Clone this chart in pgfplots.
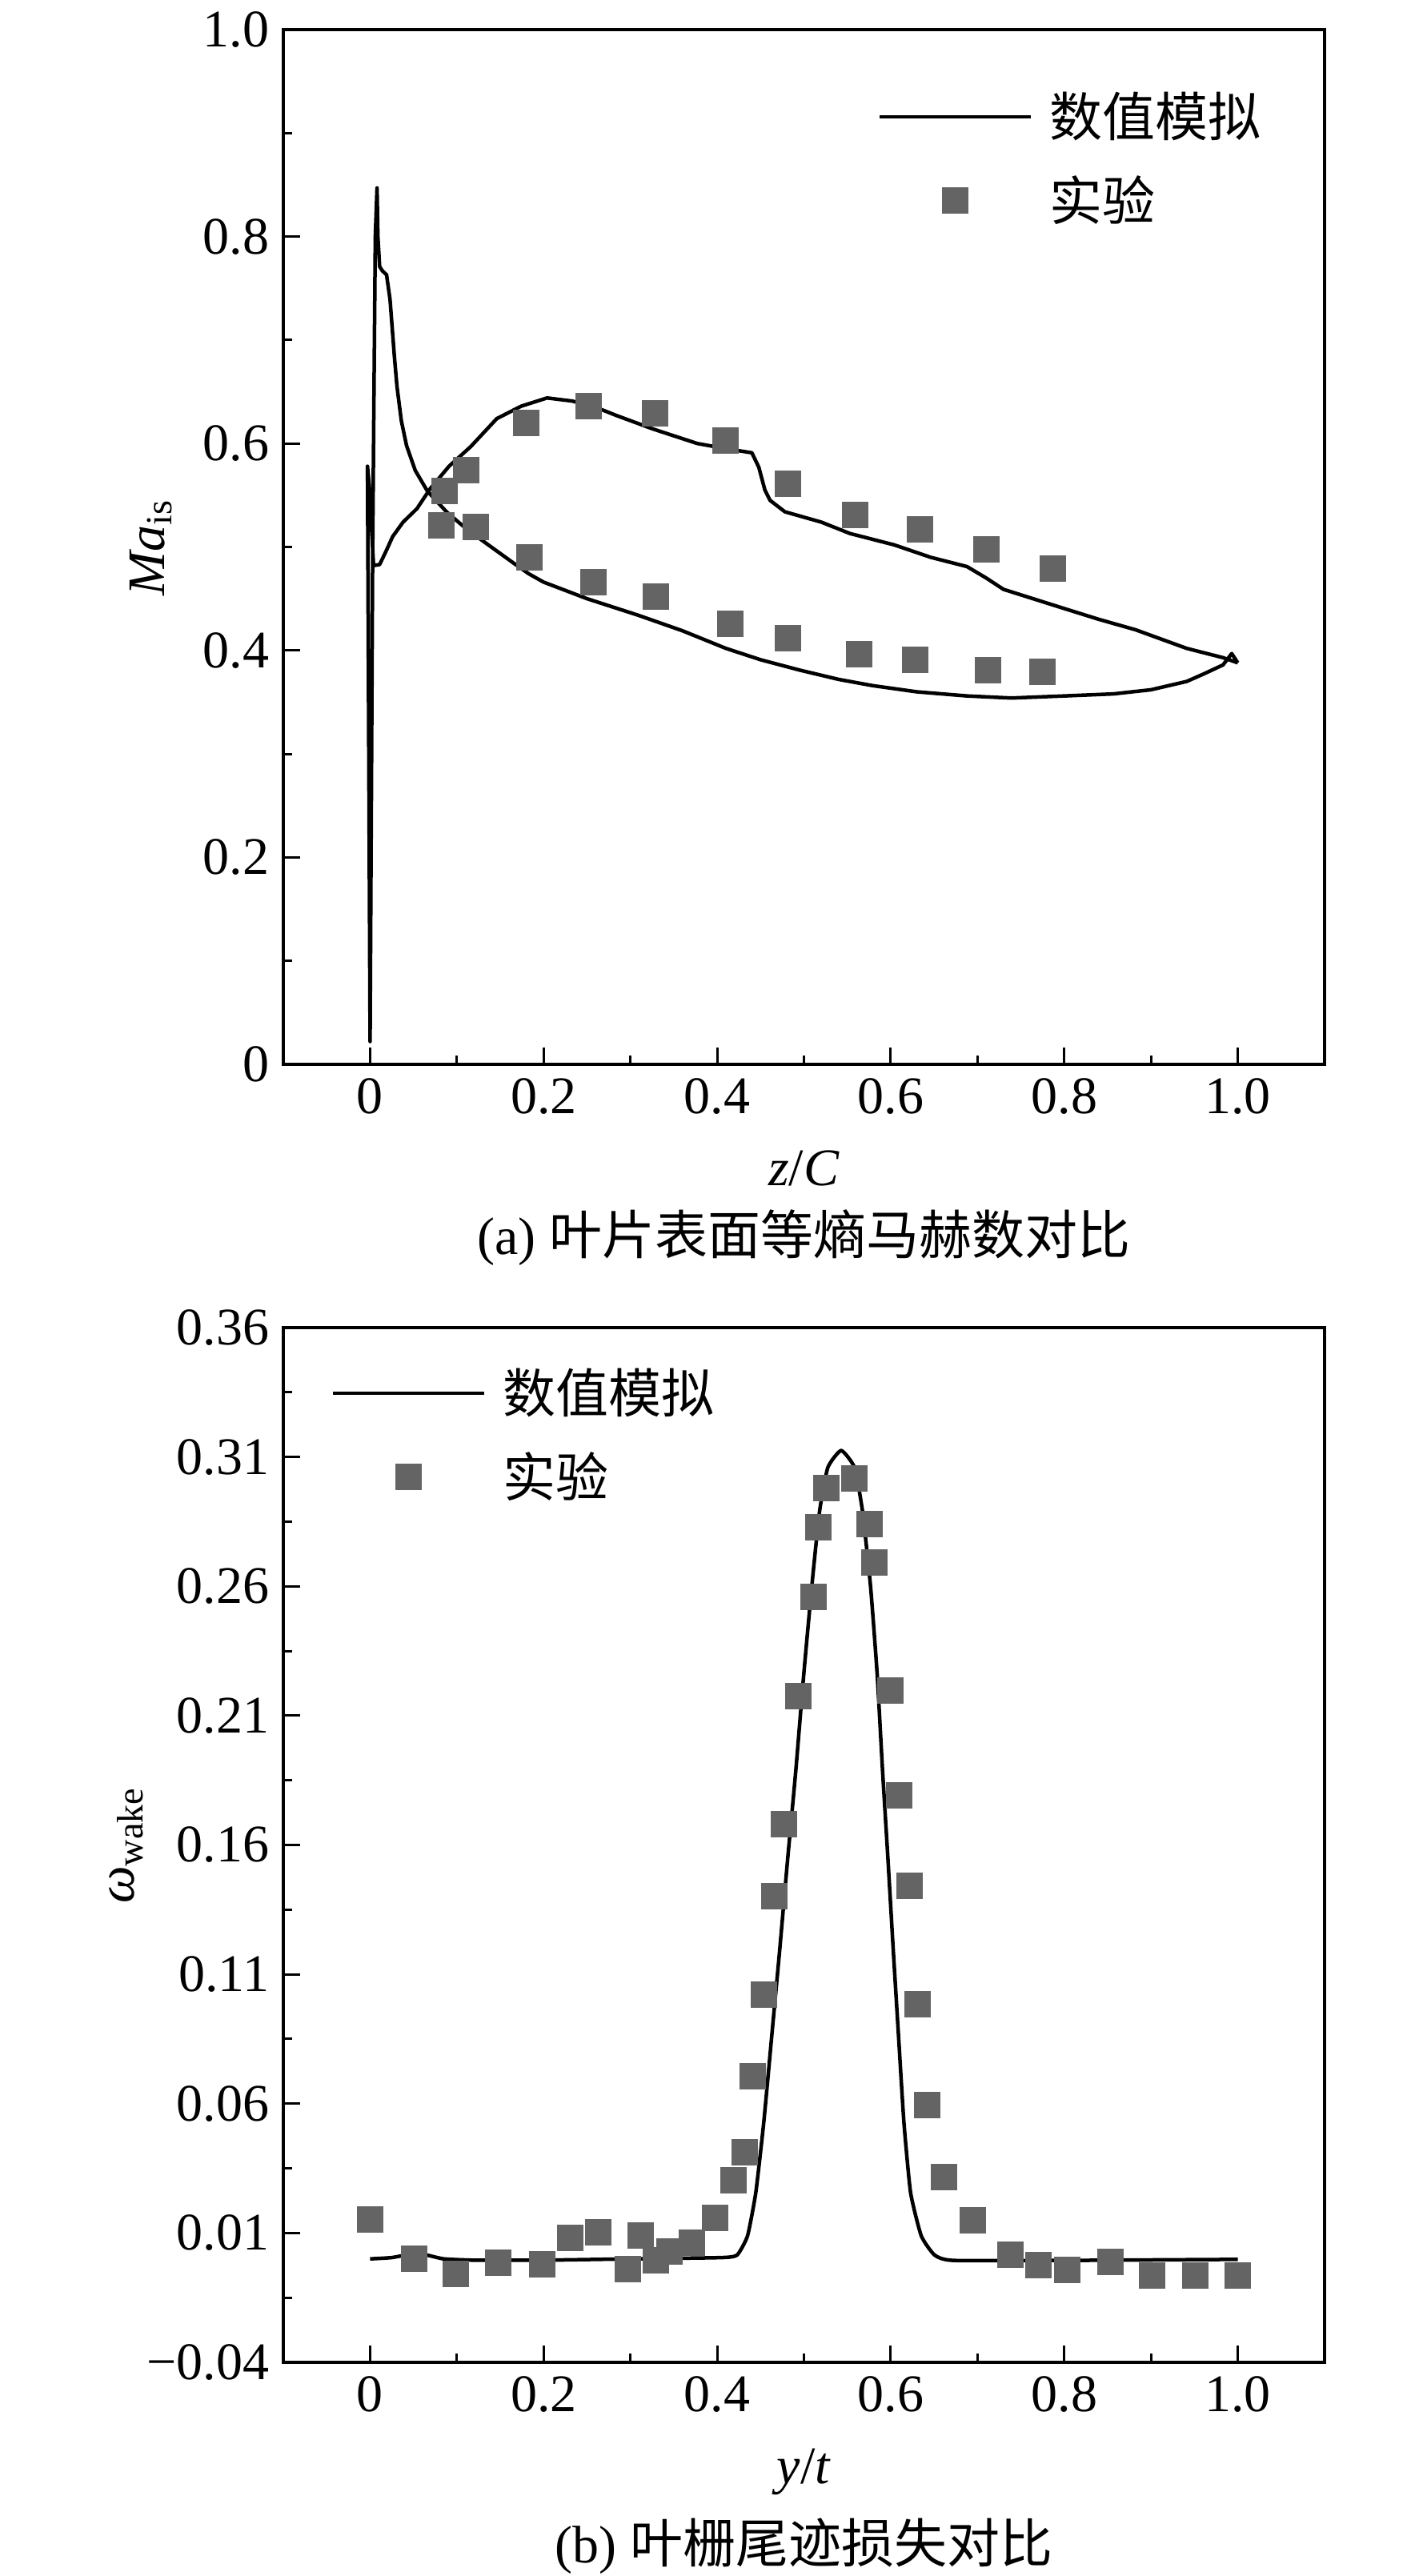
\documentclass[border=0pt]{standalone}
\usepackage{fontspec}
\setmainfont{Liberation Serif}
\newfontfamily\cjk{Noto Sans CJK SC}
\usepackage{pgfplots}
\pgfplotsset{compat=1.18}
\definecolor{mk}{RGB}{100,100,100}
\newcommand{\fs}{\fontsize{13.2}{15.8}\selectfont}
\pgfplotsset{
  mystyle/.style={
    scale only axis, width=260.2pt, height=258.6pt,
    xmin=-0.1, xmax=1.1,
    clip mode=individual,
    axis line style={line width=0.9pt},
    tick align=inside, xtick pos=bottom, ytick pos=left,
    major tick length=4.2pt, minor tick length=2.2pt,
    every tick/.style={black, line width=0.6pt},
    xtick={0,0.2,0.4,0.6,0.8,1.0}, xticklabels={0,0.2,0.4,0.6,0.8,1.0},
    minor x tick num=1, minor y tick num=1,
    tick label style={font=\fs},
    label style={font=\fs},
    legend cell align=left,
    legend style={draw=none, fill=none, anchor=north west,
      inner xsep=0pt, inner ysep=0pt, row sep=11pt, column sep=4.2pt,
      nodes={inner sep=0pt, text height=10pt, text depth=0pt},
      font=\cjk\fs},
    legend image code/.code={\draw[mark repeat=2,mark phase=2,##1] plot coordinates {(0pt,0pt) (18.9pt,0pt) (37.8pt,0pt)};},
    xlabel style={at={(axis description cs:0.5,-0.117)}, anchor=base},
  },
  sim/.style={black, line width=0.9pt, line join=round, no marks},
  exp/.style={only marks, mark=square*, mark size=3.2pt, mark options={fill=mk, draw=mk, line width=0pt}},
}
\begin{document}
\begin{tikzpicture}
\useasboundingbox (-70.8pt,-377.8pt) rectangle (283.6pt,266pt);
% ---------------- (a)
\begin{axis}[mystyle, at={(0,0)}, anchor=south west,
  ymin=0, ymax=1,
  ytick={0,0.2,0.4,0.6,0.8,1.0}, yticklabels={0,0.2,0.4,0.6,0.8,1.0},
  xlabel={\textit{z}/\textit{C}},
  ylabel={\textit{Ma}\textsubscript{is}},
  ylabel style={at={(axis description cs:-0.1145,0.5)}, anchor=base},
  legend style={at={(axis description cs:0.5703,0.9358)}},
]
\addplot[sim] coordinates {
(1.000,0.388) (0.993,0.397) (0.983,0.386) (0.960,0.377) (0.941,0.370)
(0.900,0.362) (0.857,0.358) (0.800,0.356) (0.739,0.354) (0.688,0.356)
(0.630,0.360) (0.579,0.366) (0.540,0.372) (0.495,0.381) (0.450,0.391)
(0.410,0.402) (0.360,0.419) (0.309,0.434) (0.250,0.450) (0.200,0.466)
(0.183,0.474) (0.166,0.484) (0.128,0.507) (0.106,0.521) (0.088,0.534)
(0.066,0.554) (0.052,0.574) (0.042,0.598) (0.036,0.622) (0.031,0.655)
(0.028,0.684) (0.023,0.739) (0.019,0.763) (0.014,0.767) (0.011,0.771)
(0.009,0.800) (0.008,0.847)
(0.006,0.800) (0.003,0.500) (0.000,0.022) (-0.003,0.578) (-0.001,0.560)
(0.004,0.482) (0.011,0.483) (0.019,0.497) (0.026,0.510) (0.038,0.524)
(0.054,0.537) (0.069,0.556) (0.091,0.578) (0.116,0.597) (0.146,0.624)
(0.174,0.636) (0.204,0.644) (0.233,0.641) (0.260,0.635) (0.284,0.627)
(0.326,0.614) (0.377,0.600) (0.410,0.595) (0.440,0.591) (0.448,0.577)
(0.455,0.555) (0.461,0.545) (0.478,0.534) (0.520,0.524) (0.553,0.513)
(0.604,0.502) (0.646,0.490) (0.688,0.481) (0.710,0.470) (0.730,0.459)
(0.798,0.441) (0.840,0.430) (0.882,0.420) (0.941,0.402) (0.983,0.393)
(1.000,0.388)
};
\addlegendentry{数值模拟}
\addplot[exp] coordinates {
(0.086,0.554) (0.111,0.574) (0.082,0.521) (0.122,0.519) (0.180,0.620)
(0.252,0.636) (0.328,0.629) (0.410,0.603) (0.482,0.561) (0.559,0.531)
(0.634,0.517) (0.710,0.498) (0.787,0.479)
(0.184,0.490) (0.257,0.466) (0.329,0.452) (0.415,0.426) (0.482,0.412)
(0.564,0.396) (0.628,0.391) (0.712,0.381) (0.775,0.379)
};
\addlegendentry{实验}
\node[anchor=base, font=\fs] at (axis description cs:0.5,-0.184) {(a) {\cjk 叶片表面等熵马赫数对比}};
\end{axis}
% ---------------- (b)
\begin{axis}[mystyle, at={(0,-324.4pt)}, anchor=south west,
  ymin=-0.04, ymax=0.36,
  ytick={-0.04,0.01,0.06,0.11,0.16,0.21,0.26,0.31,0.36},
  yticklabels={−0.04,0.01,0.06,0.11,0.16,0.21,0.26,0.31,0.36},
  xlabel={\textit{y}/\textit{t}},
  ylabel={\textit{ω}\textsubscript{wake}},
  ylabel style={at={(axis description cs:-0.1437,0.5)}, anchor=base},
  legend style={at={(axis description cs:0.0453,0.9567)}},
]
\addplot[sim, smooth, tension=0.3] coordinates {
(0.000,0.000) (0.025,0.0005) (0.050,0.002) (0.065,0.0015) (0.085,0.000)
(0.120,-0.0005) (0.200,-0.0005) (0.300,0.000) (0.405,0.0005) (0.423,0.0015)
(0.435,0.0089) (0.4445,0.0256) (0.4537,0.0528) (0.4629,0.0862) (0.4721,0.1196)
(0.4814,0.1552) (0.4906,0.1887) (0.4998,0.226) (0.509,0.2598) (0.518,0.289)
(0.5275,0.3059) (0.5429,0.3125) (0.5583,0.3059) (0.5675,0.289) (0.5768,0.2598)
(0.5844,0.226) (0.5906,0.1887) (0.5967,0.1552) (0.6029,0.1196) (0.609,0.0862)
(0.6152,0.0528) (0.6229,0.0256) (0.6352,0.0089) (0.6505,0.0015) (0.672,-0.0006)
(0.800,-0.0006) (0.900,-0.0004) (1.000,-0.0002)
};
\addlegendentry{数值模拟}
\addplot[exp] coordinates {
(0.000,0.0151) (0.051,0.000) (0.099,-0.0057) (0.148,-0.0014) (0.198,-0.002)
(0.231,0.008) (0.263,0.0103) (0.297,-0.004) (0.312,0.0089) (0.329,-0.0006)
(0.345,0.0029) (0.371,0.0063) (0.398,0.0157) (0.4184,0.0303) (0.4313,0.0412)
(0.4414,0.0705) (0.4537,0.1023) (0.466,0.1402) (0.4768,0.1679) (0.4937,0.2174)
(0.5106,0.256) (0.5162,0.2828) (0.5254,0.2981) (0.5583,0.3016) (0.5752,0.2839)
(0.5807,0.2692) (0.5992,0.2196) (0.6099,0.1793) (0.6213,0.1442) (0.6312,0.0983)
(0.6422,0.0594) (0.6613,0.0315) (0.695,0.0148) (0.7382,0.0015) (0.770,-0.0023)
(0.803,-0.0043) (0.853,-0.0011) (0.901,-0.0063) (0.951,-0.0063) (1.000,-0.0063)
};
\addlegendentry{实验}
\node[anchor=base, font=\fs] at (axis description cs:0.5,-0.1934) {(b) {\cjk 叶栅尾迹损失对比}};
\end{axis}
\end{tikzpicture}
\end{document}
